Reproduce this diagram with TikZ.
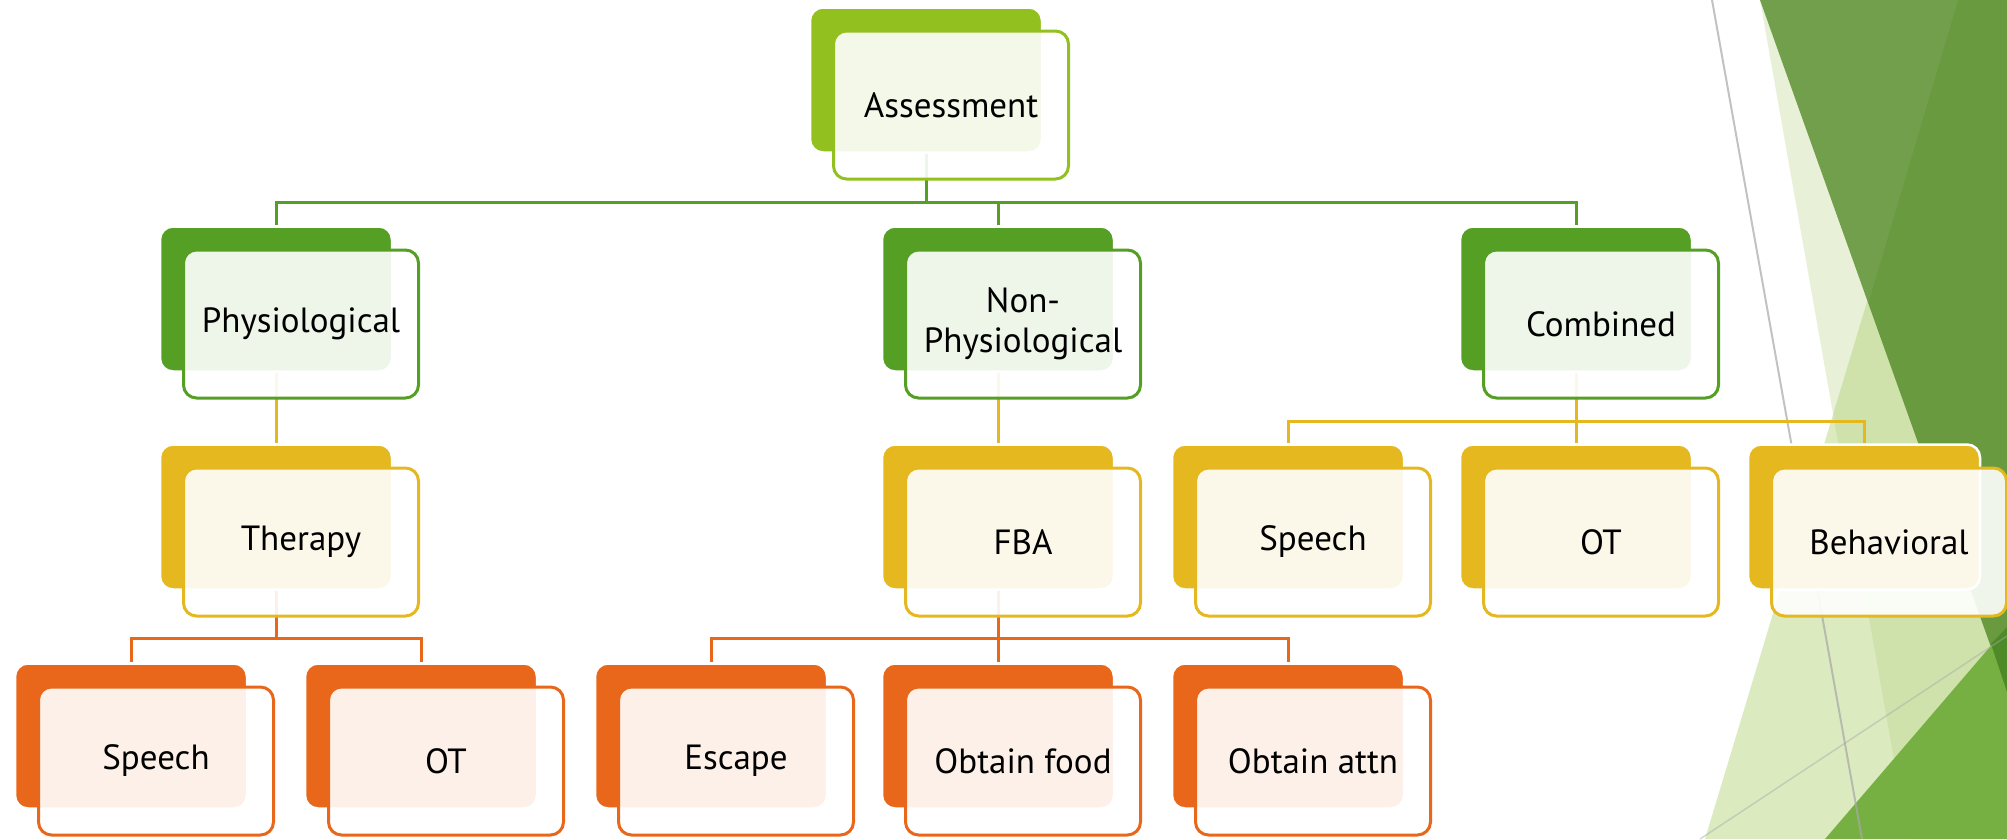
\documentclass[tikz,border=0pt]{standalone}
\usepackage{fontspec}
\setmainfont{PT Sans}
\usetikzlibrary{calc}
\pgfdeclarelayer{deco}
\pgfdeclarelayer{bg}
\pgfsetlayers{deco,bg,main}
\definecolor{cA}{HTML}{92C11F}
\definecolor{cB}{HTML}{55A024}
\definecolor{cC}{HTML}{E5B820}
\definecolor{cD}{HTML}{E8671B}
\definecolor{facetX}{HTML}{DCEAC0}
\definecolor{facetY}{HTML}{B2D07D}
\definecolor{facetDark}{HTML}{6A9A40}
\definecolor{facetBright}{HTML}{76B043}
\definecolor{facetOver}{HTML}{4E8A28}
\definecolor{facetLine}{HTML}{A8A8A8}
\tikzset{
  backbox/.style={rounded corners=13pt, minimum width=232pt, minimum height=145pt,
    inner sep=0pt, draw=white, line width=2.5pt, fill=#1},
  frontbox/.style={rounded corners=13pt, minimum width=235pt, minimum height=148pt,
    inner sep=0pt, draw=#1, line width=3pt, fill=white, fill opacity=0.9,
    text opacity=1, align=center, font=\fontsize{35}{40}\selectfont},
  conn/.style={draw=#1, line width=3pt},
  facetline/.style={draw=facetLine, line width=2pt, opacity=0.7},
}
\newcommand\pairbox[5]{%
  \node[backbox=#4] (#1b) at (#2,#3) {};
  \node[frontbox=#4] (#1) at (#2+25,#3+25) {#5};
}
\begin{document}
\begin{tikzpicture}[x=1pt,y=-1pt]
\useasboundingbox (0,0) rectangle (2007,839);
% ---- background facet decoration ----
\begin{pgfonlayer}{deco}
  \fill[facetX] (1958,0) -- (2007,0) -- (2007,839) -- (1705,839) -- cycle;
  \fill[facetY, opacity=0.3] (1760,0) -- (2007,0) -- (2007,839) -- (1908,839) -- cycle;
  \fill[facetDark] (1760,0) -- (2007,0) -- (2007,692) -- cycle;
  \fill[white, opacity=0.06] (1760,0) -- (1958,0) -- (1868,304) -- cycle;
  \fill[facetBright] (1825,839) -- (2007,627) -- (2007,839) -- cycle;
  \fill[facetOver] (1991,644) -- (2007,627) -- (2007,692) -- cycle;
  \draw[facetline] (1712,0) -- (1862,839);
  \draw[facetline, line width=1.5pt, opacity=0.45] (1700,839) -- (2007,636);
\end{pgfonlayer}
% ---- nodes ----
\pairbox{ass}{926}{80}{cA}{Assessment}
\pairbox{phy}{276}{299}{cB}{Physiological}
\pairbox{non}{998}{299}{cB}{Non-\\Physiological}
\pairbox{com}{1576}{299}{cB}{Combined}
\pairbox{the}{276}{517}{cC}{Therapy}
\pairbox{fba}{998}{517}{cC}{FBA}
\pairbox{spa}{1288}{517}{cC}{Speech}
\pairbox{ota}{1576}{517}{cC}{OT}
\pairbox{beh}{1864}{517}{cC}{Behavioral}
\pairbox{spb}{131}{736}{cD}{Speech}
\pairbox{otb}{421}{736}{cD}{OT}
\pairbox{esc}{711}{736}{cD}{Escape}
\pairbox{foo}{998}{736}{cD}{Obtain food}
\pairbox{att}{1288}{736}{cD}{Obtain attn}
% ---- connectors ----
\coordinate (bar0) at (0,202);
\coordinate (bar1) at (0,421);
\coordinate (bar2) at (0,638);
\begin{pgfonlayer}{bg}
  \foreach \c in {phyb,nonb,comb}
    \draw[conn=cB] (assb.south) -- (assb.south |- bar0) -| (\c.north);
  \draw[conn=cC] (phyb.south) -- (theb.north);
  \draw[conn=cC] (nonb.south) -- (fbab.north);
  \foreach \c in {spab,otab,behb}
    \draw[conn=cC] (comb.south) -- (comb.south |- bar1) -| (\c.north);
  \foreach \c in {spbb,otbb}
    \draw[conn=cD] (theb.south) -- (theb.south |- bar2) -| (\c.north);
  \foreach \c in {escb,foob,attb}
    \draw[conn=cD] (fbab.south) -- (fbab.south |- bar2) -| (\c.north);
\end{pgfonlayer}
\end{tikzpicture}
\end{document}
